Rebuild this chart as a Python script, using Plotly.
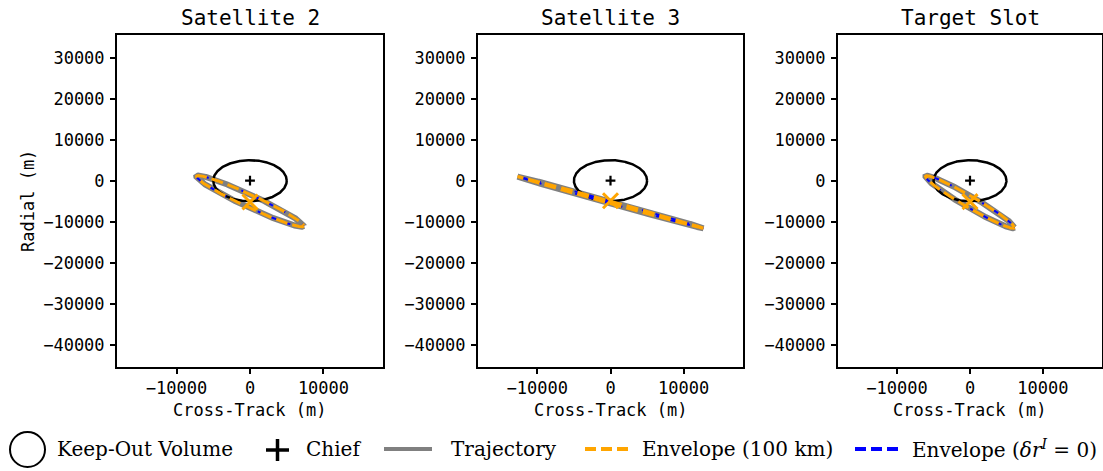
import numpy as np
import plotly.graph_objects as go

# ---------------- data ----------------
panel_titles = ["Satellite 2", "Satellite 3", "Target Slot"]
# relative-motion ellipse parameters (m), one entry per panel
traj_x_amp = [7300, 12700, 6100]        # cross-track amplitude
traj_y_center = [-5000, -5300, -5200]   # radial centre
traj_y_amp_in = [6000, 6300, 6200]      # radial amplitude in phase with cross-track
traj_y_amp_quad = [1700, 300, 1600]     # radial amplitude in quadrature
start_x = [0, 0, 0]                     # orange "x" markers
start_y = [-5200, -4900, -5100]
chief_x = [0, 0, 0]
chief_y = [0, 0, 0]
keepout_radius = 5000

x_tick_vals = [-10000, 0, 10000]
x_tick_text = ["\u221210000", "0", "10000"]
y_tick_vals = [30000, 20000, 10000, 0, -10000, -20000, -30000, -40000]
y_tick_text = ["30000", "20000", "10000", "0", "\u221210000", "\u221220000", "\u221230000", "\u221240000"]
x_range = [-18100, 18100]
y_range = [-45400, 35500]

legend_labels = ["Keep-Out Volume", "Chief", "Trajectory", "Envelope (100 km)",
                 "Envelope (<i>\u03b4r<sup>I</sup></i> = 0)"]

# ---------------- figure ----------------
W, H = 1103, 471
def px(x):
    return x / W
def py(y):
    return (H - y) / H

x_domains = [[px(117), px(383)], [px(478), px(743)], [px(838), px(1102)]]
y_domain = [py(367), py(35)]

GRAY = "#808080"
ORANGE = "#FFA500"
BLUE = "#0000FF"
MONO = "DejaVu Sans Mono"
SERIF = "DejaVu Serif"

t = np.linspace(0, 2 * np.pi, 721)
fig = go.Figure()
for i in range(3):
    xa = "x" if i == 0 else f"x{i+1}"
    ya = "y" if i == 0 else f"y{i+1}"
    tx = traj_x_amp[i] * np.cos(t)
    ty = traj_y_center[i] - traj_y_amp_in[i] * np.cos(t) - traj_y_amp_quad[i] * np.sin(t)
    common = dict(xaxis=xa, yaxis=ya, showlegend=False, hoverinfo="skip")
    fig.add_trace(go.Scatter(x=tx, y=ty, mode="lines",
                             line=dict(color=GRAY, width=6), **common))
    fig.add_trace(go.Scatter(x=keepout_radius * np.cos(t), y=keepout_radius * np.sin(t),
                             mode="lines", line=dict(color="black", width=2.5), **common))
    fig.add_trace(go.Scatter(x=tx, y=ty, mode="lines",
                             line=dict(color=BLUE, width=2, dash="7px,7px"), **common))
    fig.add_trace(go.Scatter(x=tx, y=ty, mode="lines",
                             line=dict(color=ORANGE, width=3, dash="12px,5px"), **common))
    fig.add_trace(go.Scatter(x=[start_x[i]], y=[start_y[i]], mode="markers",
                             marker=dict(symbol="x-thin-open", size=15, color=ORANGE,
                                         line=dict(color=ORANGE, width=3)), **common))
    fig.add_trace(go.Scatter(x=[chief_x[i]], y=[chief_y[i]], mode="markers",
                             marker=dict(symbol="cross-thin-open", size=7, color="black",
                                         line=dict(color="black", width=2.2)), **common))

axis_common = dict(showline=True, mirror=True, linecolor="black", linewidth=2,
                   ticks="outside", ticklen=5, tickwidth=1.5, tickcolor="black",
                   showgrid=False, zeroline=False,
                   tickfont=dict(family=MONO, size=17, color="black"))
layout = dict(width=W, height=H, autosize=False,
              margin=dict(l=0, r=0, t=0, b=0),
              plot_bgcolor="white", paper_bgcolor="white", showlegend=False)
for i in range(3):
    xk = "xaxis" if i == 0 else f"xaxis{i+1}"
    yk = "yaxis" if i == 0 else f"yaxis{i+1}"
    ya = "y" if i == 0 else f"y{i+1}"
    xa = "x" if i == 0 else f"x{i+1}"
    layout[xk] = dict(domain=x_domains[i], range=x_range, anchor=ya,
                      tickvals=x_tick_vals, ticktext=x_tick_text, **axis_common)
    layout[yk] = dict(domain=y_domain, range=y_range, anchor=xa,
                      tickvals=y_tick_vals, ticktext=y_tick_text,
                      ticklabelstandoff=2, **axis_common)
fig.update_layout(**layout)

ann = []
for i in range(3):
    cx = (x_domains[i][0] + x_domains[i][1]) / 2
    ann.append(dict(x=cx, y=py(18), xref="paper", yref="paper", text=panel_titles[i],
                    showarrow=False, xanchor="center", yanchor="middle",
                    font=dict(family=MONO, size=21, color="black")))
    ann.append(dict(x=cx, y=py(410), xref="paper", yref="paper", text="Cross-Track (m)",
                    showarrow=False, xanchor="center", yanchor="middle",
                    font=dict(family=MONO, size=17, color="black")))
ann.append(dict(x=px(28), y=py(201), xref="paper", yref="paper", text="Radial (m)",
                showarrow=False, xanchor="center", yanchor="middle", textangle=-90,
                font=dict(family=MONO, size=17, color="black")))

LEG_Y = 449
legend_text_x = [55, 304, 449, 640, 910]
for lbl, lx in zip(legend_labels, legend_text_x):
    ann.append(dict(x=px(lx), y=py(LEG_Y), xref="paper", yref="paper", text=lbl,
                    showarrow=False, xanchor="left", yanchor="middle",
                    font=dict(family=SERIF, size=20, color="black")))
fig.update_layout(annotations=ann)

shapes = [
    dict(type="circle", xref="paper", yref="paper", x0=px(10), x1=px(45),
         y0=py(467), y1=py(432), line=dict(color="black", width=2)),
    dict(type="line", xref="paper", yref="paper", x0=px(266), x1=px(289),
         y0=py(450), y1=py(450), line=dict(color="black", width=3.5)),
    dict(type="line", xref="paper", yref="paper", x0=px(277.5), x1=px(277.5),
         y0=py(439), y1=py(461), line=dict(color="black", width=3.5)),
    dict(type="line", xref="paper", yref="paper", x0=px(384), x1=px(432),
         y0=py(LEG_Y), y1=py(LEG_Y), line=dict(color=GRAY, width=4)),
    dict(type="line", xref="paper", yref="paper", x0=px(585), x1=px(628),
         y0=py(LEG_Y), y1=py(LEG_Y), line=dict(color=ORANGE, width=4, dash="11px,5px")),
    dict(type="line", xref="paper", yref="paper", x0=px(855), x1=px(898),
         y0=py(LEG_Y), y1=py(LEG_Y), line=dict(color=BLUE, width=4, dash="11px,5px")),
]
fig.update_layout(shapes=shapes)

fig.write_html("out.html")
